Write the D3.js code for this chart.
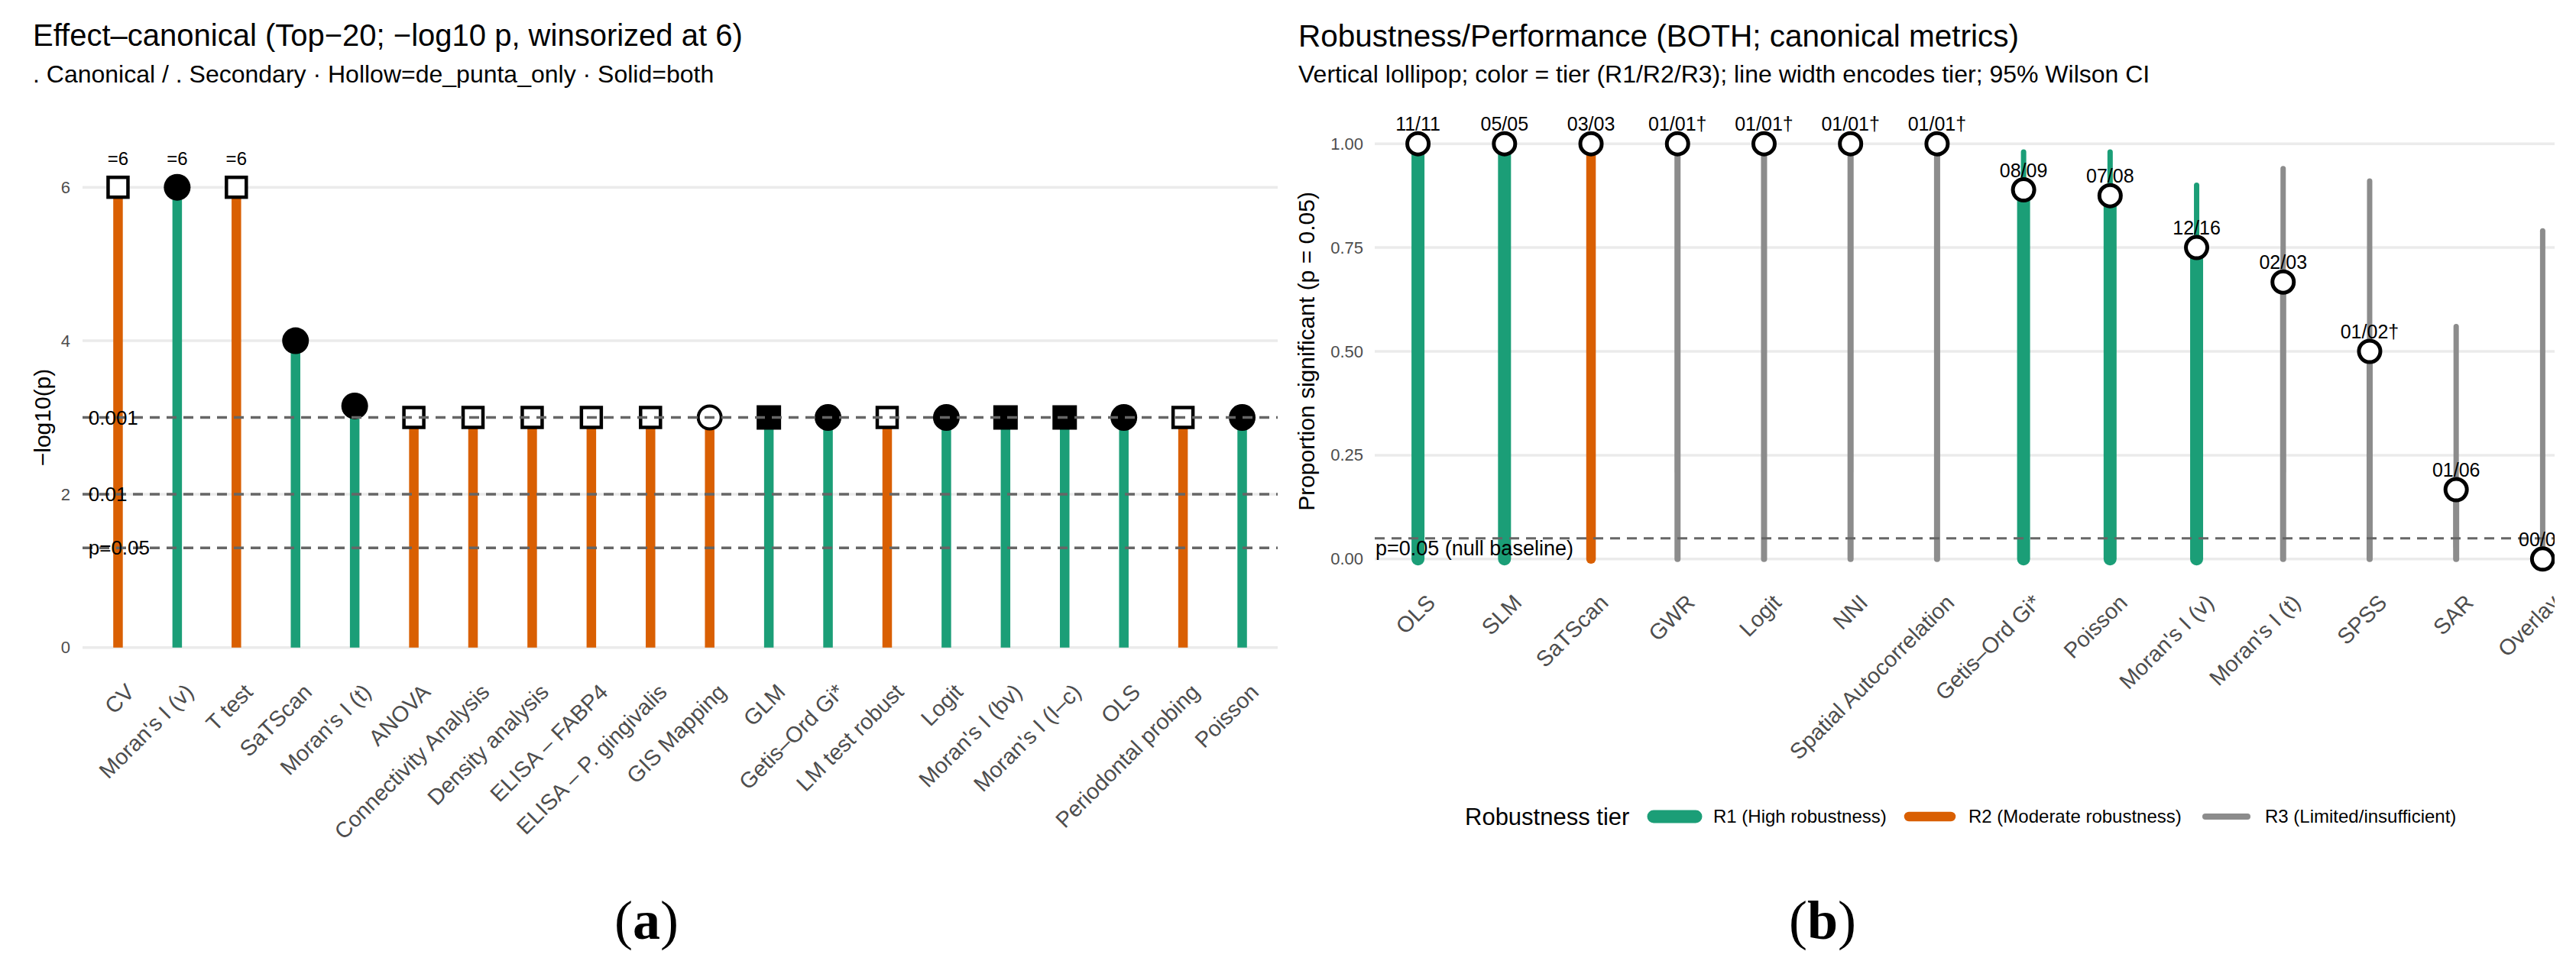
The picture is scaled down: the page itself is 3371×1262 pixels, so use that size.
<!DOCTYPE html>
<html>
<head>
<meta charset="utf-8">
<script src="https://cdn.jsdelivr.net/npm/d3@7"></script>
<style>
  body { margin: 0; background: #fff; }
  text { font-family: "Liberation Sans", Arial, sans-serif; }
</style>
</head>
<body>
<script>
const W = 3371, H = 1262;

// ---- panel (a): effect, canonical ----
const methodsA = ["CV", "Moran's I (v)", "T test", "SaTScan", "Moran's I (t)", "ANOVA",
  "Connectivity Analysis", "Density analysis", "ELISA – FABP4", "ELISA – P. gingivalis",
  "GIS Mapping", "GLM", "Getis–Ord Gi*", "LM test robust", "Logit", "Moran's I (bv)",
  "Moran's I (I–c)", "OLS", "Periodontal probing", "Poisson"];
const negLogP = [6, 6, 6, 4.0, 3.15, 3, 3, 3, 3, 3, 3, 3, 3, 3, 3, 3, 3, 3, 3, 3];
const groupA = ["sec", "can", "sec", "can", "can", "sec", "sec", "sec", "sec", "sec",
  "sec", "can", "can", "sec", "can", "can", "can", "can", "sec", "can"];
const sourceA = ["de_punta_only", "both", "de_punta_only", "both", "both", "de_punta_only",
  "de_punta_only", "de_punta_only", "de_punta_only", "de_punta_only", "de_punta_only",
  "both", "both", "de_punta_only", "both", "both", "both", "both", "de_punta_only", "both"];
const shapeA = ["square", "circle", "square", "circle", "circle", "square", "square", "square",
  "square", "square", "circle", "square", "circle", "square", "circle", "square", "square",
  "circle", "square", "circle"];
const capLabels = ["=6", "=6", "=6", "", "", "", "", "", "", "", "", "", "", "", "", "", "", "", "", ""];
const yTicksA = [0, 2, 4, 6];
const pLineValues = [3, 2, 1.30];
const pLineLabels = ["0.001", "0.01", "p=0.05"];

// ---- panel (b): robustness ----
const methodsB = ["OLS", "SLM", "SaTScan", "GWR", "Logit", "NNI", "Spatial Autocorrelation",
  "Getis–Ord Gi*", "Poisson", "Moran's I (v)", "Moran's I (t)", "SPSS", "SAR", "Overlay"];
const propB = [1, 1, 1, 1, 1, 1, 1, 0.889, 0.875, 0.75, 0.667, 0.5, 0.167, 0];
const ciLoB = [0.74, 0.57, 0.44, 0.21, 0.21, 0.21, 0.21, 0.57, 0.53, 0.50, 0.21, 0.09, 0.03, 0];
const ciHiB = [1, 1, 1, 1, 1, 1, 1, 0.98, 0.98, 0.90, 0.94, 0.91, 0.56, 0.79];
const tierB = ["R1", "R1", "R2", "R3", "R3", "R3", "R3", "R1", "R1", "R1", "R3", "R3", "R3", "R3"];
const countLabels = ["11/11", "05/05", "03/03", "01/01†", "01/01†", "01/01†", "01/01†",
  "08/09", "07/08", "12/16", "02/03", "01/02†", "01/06", "00/01"];
const yTicksB = [0, 0.25, 0.5, 0.75, 1];
const tierNames = ["R1", "R2", "R3"];
const tierLabels = ["R1 (High robustness)", "R2 (Moderate robustness)", "R3 (Limited/insufficient)"];

const groupColor = { can: "#1B9E77", sec: "#D95F02" };
const tierColor = d3.scaleOrdinal().domain(tierNames).range(["#1B9E77", "#D95F02", "#8C8C8C"]);
const tierWidth = d3.scaleOrdinal().domain(tierNames).range([17, 12.5, 8]);

const svg = d3.select("body").append("svg")
  .attr("width", W).attr("height", H)
  .style("background", "#fff");

function tickLabels(g, size) {
  g.select(".domain").remove();
  g.selectAll("text").attr("fill", "#4D4D4D").style("font-size", size + "px")
    .style("font-family", "'Liberation Sans', Arial, sans-serif");
}

// ================= panel (a) =================
{
  const left = 108, right = 1672, top = 215, bottom = 878;
  const x = d3.scalePoint().domain(methodsA).range([left, right]).padding(0.6);
  const y = d3.scaleLinear().domain([-0.3, 6.3]).range([bottom, top]);
  const g = svg.append("g");

  g.append("text").attr("x", 43).attr("y", 60).style("font-size", "40px")
    .text("Effect–canonical (Top−20; −log10 p, winsorized at 6)");
  g.append("text").attr("x", 43).attr("y", 108).style("font-size", "32px")
    .text(". Canonical / . Secondary · Hollow=de_punta_only · Solid=both");

  g.append("g").selectAll("line").data(yTicksA).join("line")
    .attr("x1", left).attr("x2", right)
    .attr("y1", d => y(d)).attr("y2", d => y(d))
    .attr("stroke", "#EBEBEB").attr("stroke-width", 3.5);

  g.append("g").attr("transform", `translate(${left},0)`)
    .call(d3.axisLeft(y).tickValues(yTicksA).tickSize(0).tickPadding(16).tickFormat(d3.format("d")))
    .call(ax => tickLabels(ax, 22));

  g.append("text")
    .attr("transform", `translate(66,${(top + bottom) / 2}) rotate(-90)`)
    .attr("text-anchor", "middle").style("font-size", "30px").text("−log10(p)");

  const xAxis = g.append("g").attr("transform", `translate(0,${bottom})`)
    .call(d3.axisBottom(x).tickSize(0))
    .call(ax => tickLabels(ax, 29));
  xAxis.selectAll("text")
    .attr("x", 0).attr("y", 0).attr("dy", "0.72em")
    .attr("text-anchor", "end")
    .attr("transform", "translate(8,15) rotate(-45)");

  // stems
  g.append("g").selectAll("line").data(methodsA).join("line")
    .attr("x1", d => x(d)).attr("x2", d => x(d))
    .attr("y1", y(0)).attr("y2", (d, i) => y(negLogP[i]))
    .attr("stroke", (d, i) => groupColor[groupA[i]]).attr("stroke-width", 12.5);

  // markers
  const pts = g.append("g");
  methodsA.forEach((m, i) => {
    const cx = x(m), cy = y(negLogP[i]);
    const hollow = sourceA[i] === "de_punta_only";
    if (shapeA[i] === "square") {
      if (hollow) {
        pts.append("rect").attr("x", cx - 13).attr("y", cy - 13).attr("width", 26).attr("height", 26)
          .attr("fill", "#fff").attr("stroke", "#000").attr("stroke-width", 4.5);
      } else {
        pts.append("rect").attr("x", cx - 16).attr("y", cy - 16).attr("width", 32).attr("height", 32)
          .attr("fill", "#000");
      }
    } else {
      if (hollow) {
        pts.append("circle").attr("cx", cx).attr("cy", cy).attr("r", 15)
          .attr("fill", "#fff").attr("stroke", "#000").attr("stroke-width", 4);
      } else {
        pts.append("circle").attr("cx", cx).attr("cy", cy).attr("r", 17.5).attr("fill", "#000");
      }
    }
  });

  // p thresholds
  g.append("g").selectAll("line").data(pLineValues).join("line")
    .attr("x1", left).attr("x2", right)
    .attr("y1", d => y(d)).attr("y2", d => y(d))
    .attr("stroke", "#666").attr("stroke-width", 3.5).attr("stroke-dasharray", "13 9");
  g.append("g").selectAll("text").data(pLineValues).join("text")
    .attr("x", x(methodsA[0]) - x.step() / 2).attr("y", d => y(d)).attr("dy", "0.35em")
    .style("font-size", "26px").text((d, i) => pLineLabels[i]);

  g.append("g").selectAll("text").data(methodsA).join("text")
    .attr("x", d => x(d)).attr("y", (d, i) => y(negLogP[i]) - 29)
    .attr("text-anchor", "middle").style("font-size", "24px")
    .text((d, i) => capLabels[i]);

  g.append("text").attr("x", 846).attr("y", 1229).attr("text-anchor", "middle")
    .style("font-family", "'Liberation Serif', 'Times New Roman', serif").style("font-size", "72px")
    .call(t => {
      t.append("tspan").text("(");
      t.append("tspan").attr("font-weight", "bold").text("a");
      t.append("tspan").text(")");
    });
}

// ================= panel (b) =================
{
  const left = 1799, right = 3384, top = 161, bottom = 759;
  const x = d3.scalePoint().domain(methodsB).range([left, right]).padding(0.5);
  const y = d3.scaleLinear().domain([-0.05, 1.05]).range([bottom, top]);

  svg.append("clipPath").attr("id", "clipB")
    .append("rect").attr("x", 1685).attr("y", 0).attr("width", 3343 - 1685).attr("height", H);
  const g = svg.append("g").attr("clip-path", "url(#clipB)");

  g.append("text").attr("x", 1699).attr("y", 61).style("font-size", "40.5px")
    .text("Robustness/Performance (BOTH; canonical metrics)");
  g.append("text").attr("x", 1699).attr("y", 108).style("font-size", "32px")
    .text("Vertical lollipop; color = tier (R1/R2/R3); line width encodes tier; 95% Wilson CI");

  g.append("g").selectAll("line").data(yTicksB).join("line")
    .attr("x1", left).attr("x2", right)
    .attr("y1", d => y(d)).attr("y2", d => y(d))
    .attr("stroke", "#EBEBEB").attr("stroke-width", 3.5);

  g.append("g").attr("transform", `translate(${left},0)`)
    .call(d3.axisLeft(y).tickValues(yTicksB).tickSize(0).tickPadding(15).tickFormat(d3.format(".2f")))
    .call(ax => tickLabels(ax, 22));

  g.append("text")
    .attr("transform", `translate(1720,${(top + bottom) / 2}) rotate(-90)`)
    .attr("text-anchor", "middle").style("font-size", "30px").text("Proportion significant (p = 0.05)");

  const xAxis = g.append("g").attr("transform", `translate(0,${bottom})`)
    .call(d3.axisBottom(x).tickSize(0))
    .call(ax => tickLabels(ax, 29));
  xAxis.selectAll("text")
    .attr("x", 0).attr("y", 0).attr("dy", "0.72em")
    .attr("text-anchor", "end")
    .attr("transform", "translate(9,17) rotate(-45)");

  // Wilson CI
  g.append("g").selectAll("line").data(methodsB).join("line")
    .attr("x1", d => x(d)).attr("x2", d => x(d))
    .attr("y1", (d, i) => y(ciLoB[i])).attr("y2", (d, i) => y(ciHiB[i]))
    .attr("stroke", (d, i) => tierColor(tierB[i])).attr("stroke-width", 7)
    .attr("stroke-linecap", "round");

  // stems
  g.append("g").selectAll("line").data(methodsB).join("line")
    .attr("x1", d => x(d)).attr("x2", d => x(d))
    .attr("y1", y(0)).attr("y2", (d, i) => y(propB[i]))
    .attr("stroke", (d, i) => tierColor(tierB[i]))
    .attr("stroke-width", (d, i) => tierWidth(tierB[i]))
    .attr("stroke-linecap", "round");

  g.append("line").attr("x1", left).attr("x2", right)
    .attr("y1", y(0.05)).attr("y2", y(0.05))
    .attr("stroke", "#666").attr("stroke-width", 3).attr("stroke-dasharray", "13 9");
  g.append("text").attr("x", left + 1).attr("y", y(0.05) + 22)
    .style("font-size", "27px").text("p=0.05 (null baseline)");

  g.append("g").selectAll("circle").data(methodsB).join("circle")
    .attr("cx", d => x(d)).attr("cy", (d, i) => y(propB[i])).attr("r", 14)
    .attr("fill", "#fff").attr("stroke", "#000").attr("stroke-width", 5);

  g.append("g").selectAll("text").data(methodsB).join("text")
    .attr("x", d => x(d)).attr("y", (d, i) => y(propB[i]) - 17)
    .attr("text-anchor", "middle").style("font-size", "25px")
    .text((d, i) => countLabels[i]);

  // legend
  const lg = g.append("g").attr("transform", "translate(0,1069)");
  lg.append("text").attr("x", 1917).attr("y", 0).attr("dy", "0.35em")
    .style("font-size", "31px").text("Robustness tier");
  const keyX = [2155, 2489, 2877];
  tierNames.forEach((t, i) => {
    lg.append("line").attr("x1", keyX[i] + 9).attr("x2", keyX[i] + 64)
      .attr("y1", 0).attr("y2", 0)
      .attr("stroke", tierColor(t)).attr("stroke-width", tierWidth(t)).attr("stroke-linecap", "round");
    lg.append("text").attr("x", keyX[i] + 87).attr("y", 0).attr("dy", "0.35em")
      .style("font-size", "24px").text(tierLabels[i]);
  });

  g.append("text").attr("x", 2385).attr("y", 1229).attr("text-anchor", "middle")
    .style("font-family", "'Liberation Serif', 'Times New Roman', serif").style("font-size", "72px")
    .call(t => {
      t.append("tspan").text("(");
      t.append("tspan").attr("font-weight", "bold").text("b");
      t.append("tspan").text(")");
    });
}
</script>
</body>
</html>
